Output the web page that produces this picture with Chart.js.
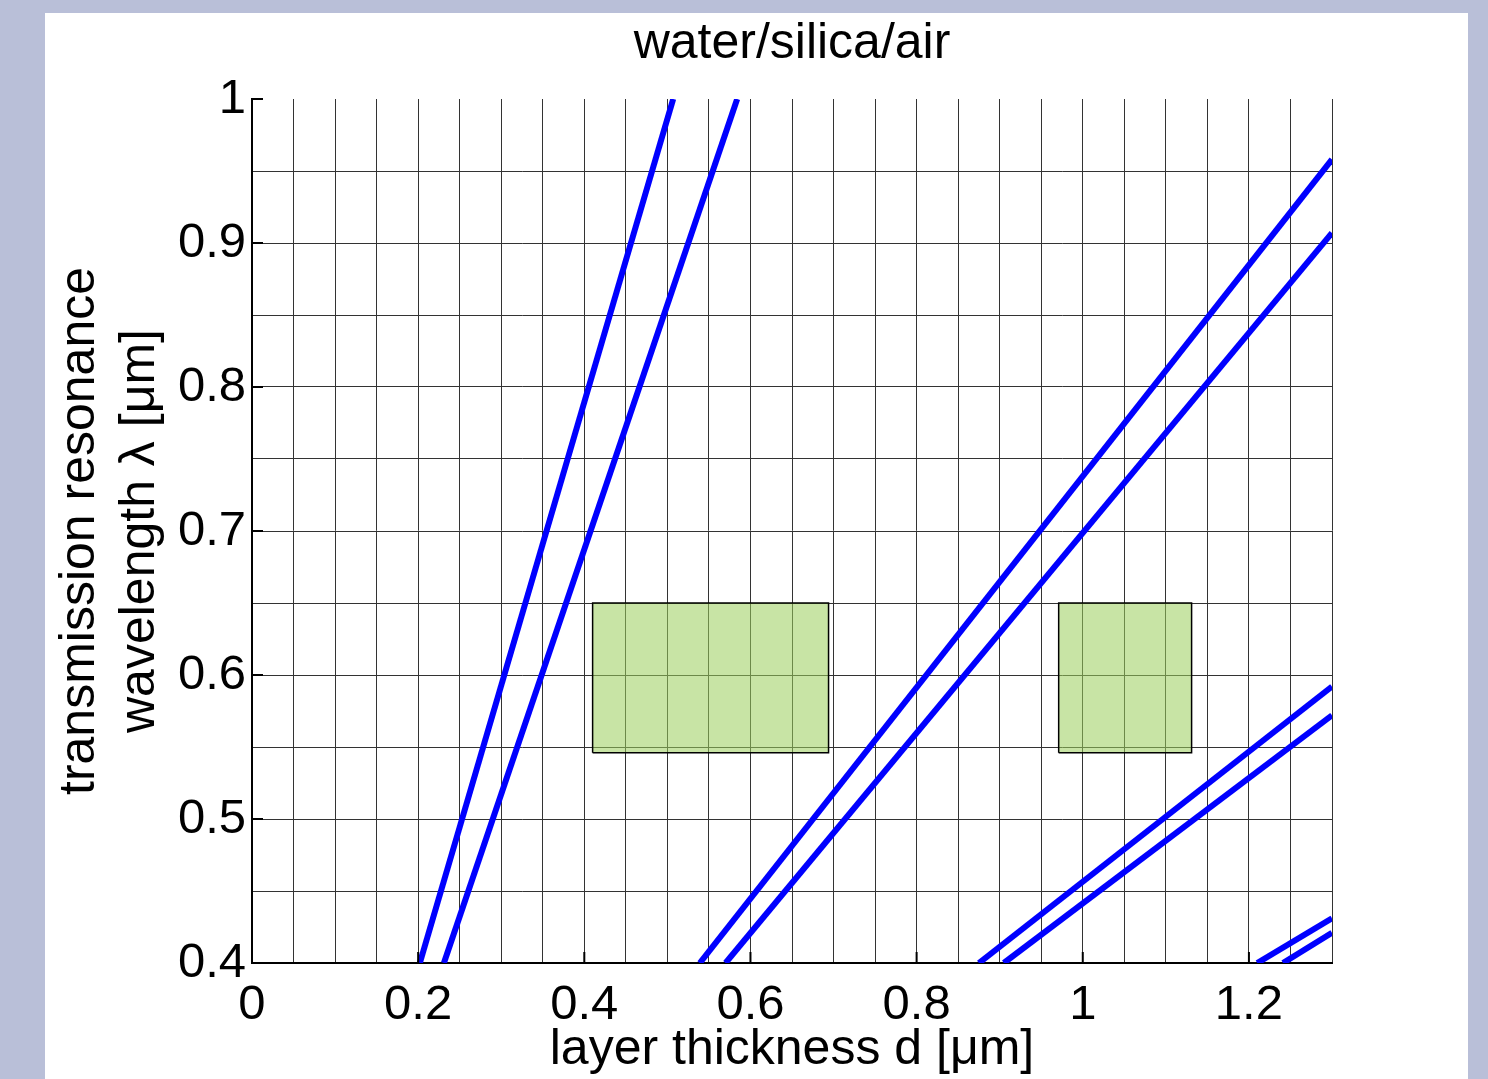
<!DOCTYPE html>
<html>
<head>
<meta charset="utf-8">
<script src="https://cdn.jsdelivr.net/npm/chart.js@4.4.1/dist/chart.umd.min.js"></script>
<style>
  html, body { margin: 0; padding: 0; background: #b9bfd8; }
  canvas { display: block; }
</style>
</head>
<body>
<canvas id="chart-1" width="1488" height="1079"></canvas>
<script>
// resonance lines: layer thickness d (start, end) and wavelength (start, end)
const lineD = [[0.202, 0.507], [0.231, 0.584], [0.539, 1.3], [0.570, 1.3], [0.875, 1.3], [0.905, 1.3], [1.210, 1.3], [1.241, 1.3]];
const lineLambda = [[0.4, 1.0], [0.4, 1.0], [0.4, 0.958], [0.4, 0.907], [0.4, 0.592], [0.4, 0.572], [0.4, 0.431], [0.4, 0.421]];

// green boxes
const boxD = [[0.41, 0.694], [0.971, 1.131]];
const boxLambda = [0.546, 0.65];

const xTicks = [0, 0.2, 0.4, 0.6, 0.8, 1, 1.2];
const yTicks = [0.4, 0.5, 0.6, 0.7, 0.8, 0.9, 1];

const isTick = (list, v) => list.some(t => Math.abs(t - v) < 1e-6);
const fmt = v => String(Math.round(v * 10) / 10);

Chart.defaults.font.family = "'Liberation Sans', Arial, Helvetica, sans-serif";
Chart.defaults.color = '#000';

const datasets = [];
boxD.forEach(b => {
  datasets.push({
    data: [
      {x: b[0], y: boxLambda[0]}, {x: b[1], y: boxLambda[0]},
      {x: b[1], y: boxLambda[1]}, {x: b[0], y: boxLambda[1]},
      {x: b[0], y: boxLambda[0]}
    ],
    showLine: true,
    fill: 'shape',
    backgroundColor: 'rgba(155,206,91,0.55)',
    borderColor: '#000',
    borderWidth: 1.5,
    pointRadius: 0
  });
});
lineD.forEach((d, i) => {
  datasets.push({
    data: [{x: d[0], y: lineLambda[i][0]}, {x: d[1], y: lineLambda[i][1]}],
    showLine: true,
    borderColor: '#0000ff',
    borderWidth: 6,
    pointRadius: 0,
    clip: 0
  });
});

const panel = {
  id: 'panel',
  beforeDraw(chart) {
    const c = chart.ctx;
    c.save();
    c.fillStyle = '#b9bfd8';
    c.fillRect(0, 0, chart.width, chart.height);
    c.fillStyle = '#fff';
    c.fillRect(45, 13, 1423, chart.height - 13);
    c.restore();
  }
};

// short inward tick marks at the labelled values
const inTicks = {
  id: 'inTicks',
  afterDraw(chart) {
    const c = chart.ctx, xs = chart.scales.x, ys = chart.scales.y, a = chart.chartArea;
    c.save();
    c.strokeStyle = '#000';
    c.lineWidth = 2;
    c.beginPath();
    xTicks.forEach(v => {
      const px = xs.getPixelForValue(v);
      c.moveTo(px, a.bottom);
      c.lineTo(px, a.bottom - 11);
    });
    yTicks.forEach(v => {
      const py = ys.getPixelForValue(v);
      c.moveTo(a.left, py);
      c.lineTo(a.left + 11, py);
    });
    c.stroke();
    c.restore();
  }
};

new Chart(document.getElementById('chart-1'), {
  type: 'scatter',
  data: { datasets: datasets },
  plugins: [panel, inTicks],
  options: {
    responsive: false,
    animation: false,
    layout: { padding: { left: 45, top: 13, right: 156, bottom: 0 } },
    plugins: {
      legend: { display: false },
      tooltip: { enabled: false },
      title: {
        display: true,
        fullSize: false,
        text: 'water/silica/air',
        color: '#000',
        font: { size: 50, weight: 'normal', lineHeight: 1.25 },
        padding: { top: 0, bottom: 23.5 }
      }
    },
    scales: {
      x: {
        type: 'linear',
        min: 0,
        max: 1.3,
        afterFit: s => { s.height = 116; },
        border: { display: true, color: '#000', width: 2 },
        grid: { color: '#333', lineWidth: 1, drawTicks: false },
        ticks: {
          stepSize: 0.05,
          autoSkip: false,
          maxRotation: 0,
          padding: 13,
          font: { size: 49 },
          callback: v => isTick(xTicks, v) ? fmt(v) : ''
        },
        title: {
          display: true,
          text: 'layer thickness d [μm]',
          font: { size: 50, lineHeight: 1.15 },
          padding: { top: 0, bottom: 0 }
        }
      },
      y: {
        type: 'linear',
        min: 0.4,
        max: 1,
        afterFit: s => { s.width = 207; },
        border: { display: true, color: '#000', width: 2 },
        grid: {
          color: ctx => (ctx.tick && Math.abs(ctx.tick.value - 1) < 1e-6) ? 'rgba(0,0,0,0)' : '#333',
          lineWidth: 1,
          drawTicks: false
        },
        ticks: {
          stepSize: 0.05,
          autoSkip: false,
          padding: 6,
          font: { size: 49 },
          callback: v => isTick(yTicks, v) ? fmt(v) : ''
        },
        title: {
          display: true,
          text: ['transmission resonance', 'wavelength λ [μm]'],
          font: { size: 50, lineHeight: 1.2 },
          padding: { top: 5, bottom: 0 }
        }
      }
    }
  }
});
</script>
</body>
</html>
